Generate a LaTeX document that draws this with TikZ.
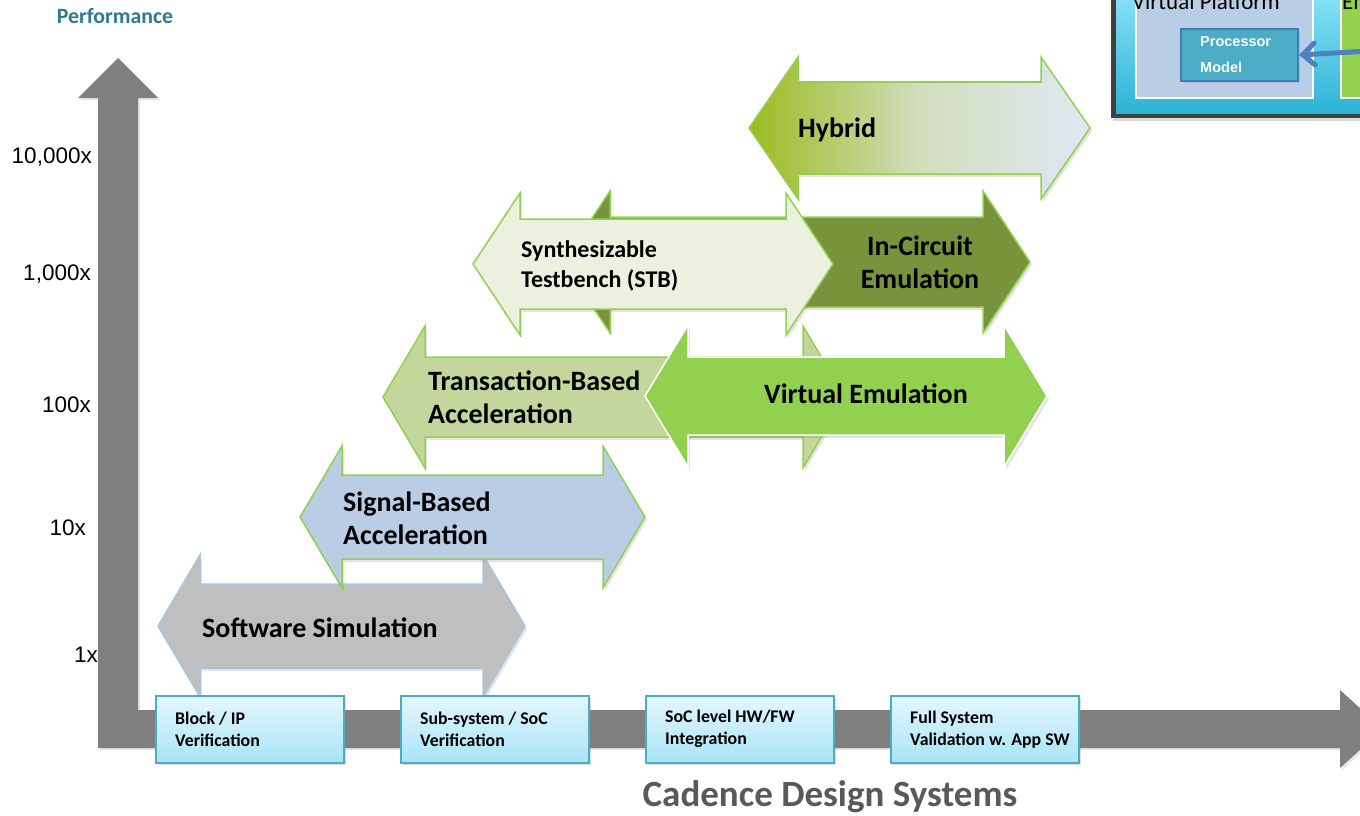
\documentclass[tikz,border=0pt]{standalone}
\usepackage{fontspec}
\setmainfont{Carlito}
\newfontfamily\arialfont{Liberation Sans}
\usetikzlibrary{arrows.meta,shadows}

\definecolor{axisgray}{HTML}{7F7F7F}
\definecolor{leafgreen}{HTML}{92D050}
\definecolor{simgray}{HTML}{BFBFBF}
\definecolor{simedge}{HTML}{A9C4E3}
\definecolor{sigblue}{HTML}{B9CDE5}
\definecolor{tbxgreen}{HTML}{C3D69B}
\definecolor{stbpale}{HTML}{EBF1DE}
\definecolor{iceolive}{HTML}{77933C}
\definecolor{hybleft}{HTML}{9BBB1F}
\definecolor{hybmid}{HTML}{D2DDBC}
\definecolor{hybright}{HTML}{E0E8F4}
\definecolor{boxtop}{HTML}{E4F7FD}
\definecolor{boxbottom}{HTML}{A8E4F7}
\definecolor{boxedge}{HTML}{4BACC6}
\definecolor{perfteal}{HTML}{31788F}
\definecolor{cadgray}{HTML}{595959}
\definecolor{framecyan}{HTML}{2CB3D5}
\definecolor{framelight}{HTML}{8BE3F7}
\definecolor{procfill}{HTML}{4BACC6}
\definecolor{procedge}{HTML}{3D7EBF}
\definecolor{feedblue}{HTML}{4F81BD}

% double headed block arrow: style, left tip, right tip, mid y, head depth, half body
\newcommand{\twoway}[6]{\filldraw[#1] (#2,#4) -- ({#2+#5},{#4-71}) -- ({#2+#5},{#4-#6}) -- ({#3-#5},{#4-#6}) -- ({#3-#5},{#4-71}) -- (#3,#4) -- ({#3-#5},{#4+71}) -- ({#3-#5},{#4+#6}) -- ({#2+#5},{#4+#6}) -- ({#2+#5},{#4+71}) -- cycle;}

\tikzset{
  axisbar/.style={fill=axisgray, drop shadow={opacity=0.2,shadow xshift=2pt,shadow yshift=-2pt}},
  flowarrow/.style={line width=1.5pt, line join=miter, drop shadow={opacity=0.22,shadow xshift=2pt,shadow yshift=-3pt}},
  biglabel/.style={font=\bfseries\fontsize{28}{33}\selectfont, inner sep=0pt, align=left},
  stagebox/.style={draw=boxedge, line width=1.5pt, top color=boxtop, bottom color=boxbottom, minimum width=188pt, minimum height=67pt, anchor=north west, inner sep=0pt, drop shadow={opacity=0.25,shadow xshift=2pt,shadow yshift=-2pt}},
  stagetext/.style={font=\bfseries\fontsize{17.8}{22}\selectfont, anchor=west, align=left, inner sep=0pt},
  ticklabel/.style={font=\arialfont\fontsize{22.5}{22.5}\selectfont, anchor=east, inner sep=0pt}
}

\begin{document}
\begin{tikzpicture}[x=1pt,y=-1pt]
\useasboundingbox (0,0) rectangle (1360,816);
\clip (0,0) rectangle (1360,816);

% axes
\path[axisbar] (98,748) -- (98,98) -- (78,98) -- (118,58) -- (158,98) -- (138,98) -- (138,710) -- (1340,710) -- (1340,690) -- (1383,729) -- (1340,768) -- (1340,748) -- cycle;

% flows
\twoway{flowarrow, fill=simgray, draw=simedge}{158}{525}{626}{42}{42}
\twoway{flowarrow, fill=sigblue, draw=leafgreen}{300}{645}{517}{42}{42}
\twoway{flowarrow, fill=tbxgreen, draw=leafgreen}{383}{845}{397}{42}{40}
\twoway{flowarrow, fill=iceolive, draw=leafgreen}{563}{1030}{262}{47}{45}
\twoway{flowarrow, fill=leafgreen, draw=white}{645}{1047}{396}{43}{39}
\twoway{flowarrow, fill=stbpale, draw=leafgreen}{473}{833}{264}{47}{45}
\twoway{flowarrow, left color=hybleft, right color=hybright, middle color=hybmid, draw=leafgreen}{749}{1090}{128}{49}{46}

\node[biglabel, anchor=west] (swsim) at (202,628) {Software Simulation};
\node[biglabel, anchor=west] (sigacc) at (343,518) {Signal-Based\\Acceleration};
\node[biglabel, anchor=west] (tbxacc) at (428,397) {Transaction-Based\\Acceleration};
\node[biglabel, align=center] (ice) at (920,262) {In-Circuit\\Emulation};
\node[biglabel] (vemu) at (866,394) {Virtual Emulation};
\node[biglabel, anchor=west, font=\bfseries\fontsize{24}{30}\selectfont] (stb) at (521,266) {Synthesizable\\Testbench (STB)};
\node[biglabel, anchor=west] (hyb) at (798,130) {Hybrid};

% stages on the x axis
\node[stagebox] (blk) at (155,695) {};
\node[stagebox] (sub) at (400,695) {};
\node[stagebox] (soc) at (645,695) {};
\node[stagebox] (full) at (890,695) {};
\node[stagetext] at ([xshift=20pt]blk.west) {Block / IP\\Verification};
\node[stagetext] at ([xshift=20pt]sub.west) {Sub-system / SoC\\Verification};
\node[stagetext] at ([xshift=20pt]soc.west) {SoC level HW/FW\\Integration};
\node[stagetext] at ([xshift=20pt]full.west) {Full System\\Validation w. App SW};

% y axis
\node[font=\bfseries\fontsize{21.8}{21.8}\selectfont, text=perfteal] (perf) at (115,16) {Performance};
\node[ticklabel] (t4) at (92,157) {10,000x};
\node[ticklabel] (t3) at (91,274) {1,000x};
\node[ticklabel] (t2) at (91,405) {100x};
\node[ticklabel] (t1) at (86,528) {10x};
\node[ticklabel] (t0) at (98,655) {1x};

\node[font=\bfseries\fontsize{37}{37}\selectfont, text=cadgray] (cds) at (830,797) {Cadence Design Systems};

% corner panel
\fill[black!75, drop shadow={opacity=0.3,shadow xshift=2pt,shadow yshift=-3pt}] (1111,-10) rectangle (1400,118);
\fill[top color=framelight, bottom color=framecyan] (1116,-10) rectangle (1400,113);
\filldraw[fill=sigblue, draw=white, line width=1.5pt] (1136,-10) rectangle (1313,98);
\filldraw[fill=leafgreen, draw=white, line width=1.5pt] (1341,-10) rectangle (1400,98);
\node[font=\fontsize{23}{23}\selectfont, inner sep=0pt] (vp) at (1206,2) {Virtual Platform};
\node[font=\fontsize{23}{23}\selectfont, inner sep=0pt, anchor=west] (emu) at (1342,2) {Emulator};
\node[draw=procedge, fill=procfill, line width=2pt, minimum width=117pt, minimum height=52pt, anchor=north west, drop shadow={opacity=0.25}] (proc) at (1180,28) {};
\node[font=\arialfont\bfseries\fontsize{14.5}{26}\selectfont, text=white, anchor=west, align=left, inner sep=0pt] at (1200,55) {Processor\\Model};
\coordinate (feed) at (1370,51);
\draw[feedblue, line width=5pt, line cap=round, -{Straight Barb[length=12pt,width=22pt,line cap=round]}] (feed) -- (proc.east);
\end{tikzpicture}
\end{document}
